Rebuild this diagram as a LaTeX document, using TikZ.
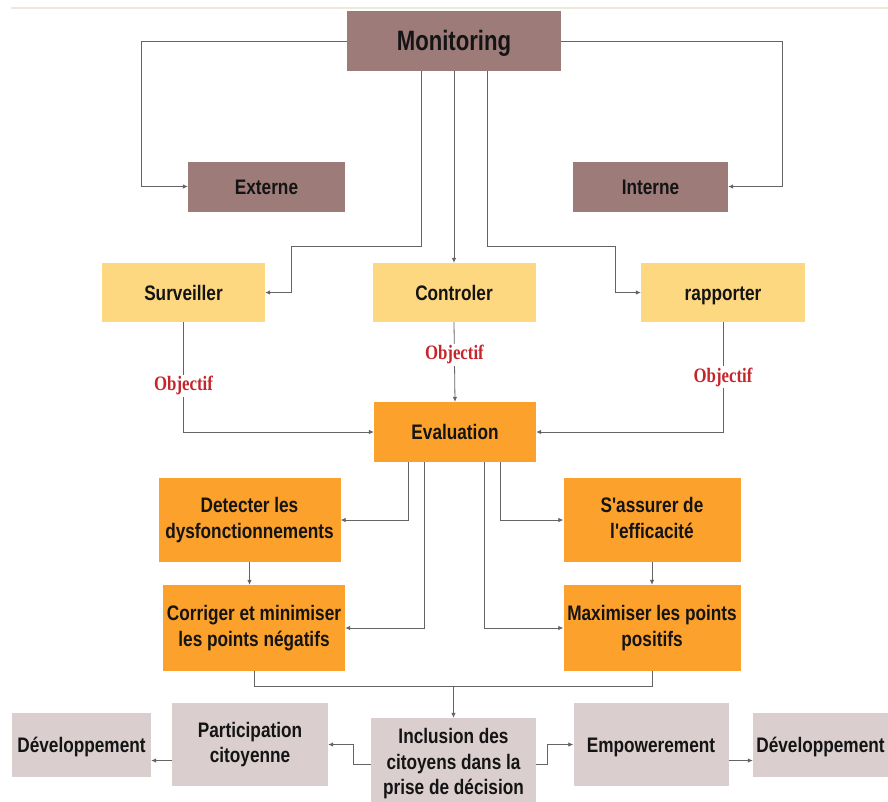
\documentclass[tikz,border=0pt]{standalone}
\usepackage{fontspec}
\usetikzlibrary{arrows.meta}
\newfontfamily\boxfont{Liberation Sans}[FakeStretch=0.82]
\newfontfamily\headfont{Liberation Sans}[FakeStretch=0.79]
\newfontfamily\labfont{Liberation Serif}[FakeStretch=0.82]
\definecolor{mauve}{RGB}{156,123,121}
\definecolor{sand}{RGB}{254,216,128}
\definecolor{amber}{RGB}{252,161,44}
\definecolor{ash}{RGB}{218,206,206}
\definecolor{wire}{RGB}{100,100,100}
\definecolor{ink}{RGB}{20,20,20}
\definecolor{objred}{RGB}{196,38,44}
\definecolor{rule}{RGB}{237,232,216}
\begin{document}
\begin{tikzpicture}[x=1pt,y=-1pt,
  box/.style={inner sep=0pt, align=center, text=ink,
    font=\boxfont\bfseries\fontsize{21}{25.5}\selectfont,
    execute at begin node=\rule{0pt}{19.5pt},
    execute at end node=\rule[-4.5pt]{0pt}{4.5pt}},
  head/.style={box, fill=mauve, minimum width=214pt, minimum height=60pt,
    font=\headfont\bfseries\fontsize{28}{30}\selectfont,
    execute at begin node=\rule{0pt}{25pt},
    execute at end node=\rule[-5pt]{0pt}{5pt}},
  kind/.style={box, fill=mauve, minimum width=156pt, minimum height=50pt},
  task/.style={box, fill=sand, minimum width=163pt, minimum height=59pt},
  evalbox/.style={box, fill=amber, minimum width=162pt, minimum height=60pt},
  act/.style={box, fill=amber, minimum width=179pt, minimum height=85pt},
  outc/.style={box, fill=ash, minimum width=156pt, minimum height=83pt},
  link/.style={draw=wire, line width=0.8pt},
  arr/.style={link, -{Latex[length=5pt,width=4.5pt]}},
  objlab/.style={fill=white, inner sep=1.5pt, text=objred,
    font=\labfont\bfseries\fontsize{20.5}{22}\selectfont}
]
\useasboundingbox (0,0) rectangle (888,801);
\fill[white] (0,0) rectangle (888,801);
\draw[rule, line width=2.5pt] (11,8) -- (888,8);

% top level
\node[head] (mon) at (454,41) {Monitoring};
\node[kind, minimum width=157pt] (ext) at (266.5,186.5) {Externe};
\node[kind, minimum width=155pt] (int) at (650.5,186.5) {Interne};

% tasks
\node[task] (surv) at (183.5,292.5) {Surveiller};
\node[task] (ctrl) at (454,292.5) {Controler};
\node[task, minimum width=164pt] (rapp) at (723,292.5) {rapporter};

% evaluation and its actions
\node[evalbox] (eval) at (455,432) {Evaluation};
\node[act, minimum width=182pt, minimum height=84pt] (det) at (249.5,520) {Detecter les\\dysfonctionnements};
\node[act, minimum width=177pt, minimum height=84pt] (sass) at (652,520) {S'assurer de\\l'efficacité};
\node[act, minimum width=182pt, minimum height=86pt] (corr) at (254,628) {Corriger et minimiser\\les points négatifs};
\node[act, minimum width=177pt, minimum height=86pt] (maxi) at (652,628) {Maximiser les points\\positifs};

% outcomes
\node[outc] (part) at (250,744.5) {Participation\\citoyenne};
\node[outc, minimum width=165pt, minimum height=92pt] (incl) at (453.5,764) {Inclusion des\\citoyens dans la\\prise de décision};
\node[outc, minimum width=155pt] (emp) at (651,744.5) {Empowerement};
\node[outc, minimum width=139pt, minimum height=64pt] (devl) at (81.5,745) {Développement};
\node[outc, minimum width=135pt, minimum height=64pt] (devr) at (820.5,745) {Développement};

% monitoring branches
\draw[arr] (mon.west) -| ([xshift=-46pt]ext.west) -- (ext.west);
\draw[arr] (mon.east) -| ([xshift=54pt]int.east) -- (int.east);
\draw[arr] ([xshift=-33pt]mon.south) -- ++(0,175) -| ([xshift=26pt]surv.east) -- (surv.east);
\draw[arr] (mon.south) -- (ctrl.north);
\draw[arr] ([xshift=33pt]mon.south) -- ++(0,175) -| ([xshift=-25pt]rapp.west) -- (rapp.west);

% objectives towards evaluation
\draw[arr] (surv.south) |- node[objlab, pos=0.29] {Objectif} (eval.west);
\draw[arr] (ctrl.south) -- node[objlab, pos=0.41] {Objectif} (eval.north);
\draw[arr] (rapp.south) |- node[objlab, pos=0.25] {Objectif} (eval.east);

% evaluation outputs
\draw[arr] ([xshift=-47pt]eval.south) |- (det.east);
\draw[arr] ([xshift=-31pt]eval.south) |- (corr.east);
\draw[arr] ([xshift=29pt]eval.south) |- (maxi.west);
\draw[arr] ([xshift=45pt]eval.south) |- (sass.west);
\draw[arr] (det.south) -- (det.south |- corr.north);
\draw[arr] (sass.south) -- (maxi.north);

% merge into inclusion
\coordinate (merge) at ([yshift=-15pt]corr.south);
\draw[link] (corr.south) -- (merge) -| (maxi.south);
\draw[arr] (incl.north |- merge) -- (incl.north);

% inclusion consequences
\draw[arr] (incl.west) -- ++(-17,0) |- (part.east);
\draw[arr] (incl.east) -- ++(11,0) |- (emp.west);
\draw[arr] ([yshift=-16pt]part.west) -- ([yshift=-16pt]part.west -| devl.east);
\draw[arr] ([yshift=-16pt]emp.east) -- ([yshift=-16pt]emp.east -| devr.west);
\end{tikzpicture}
\end{document}
